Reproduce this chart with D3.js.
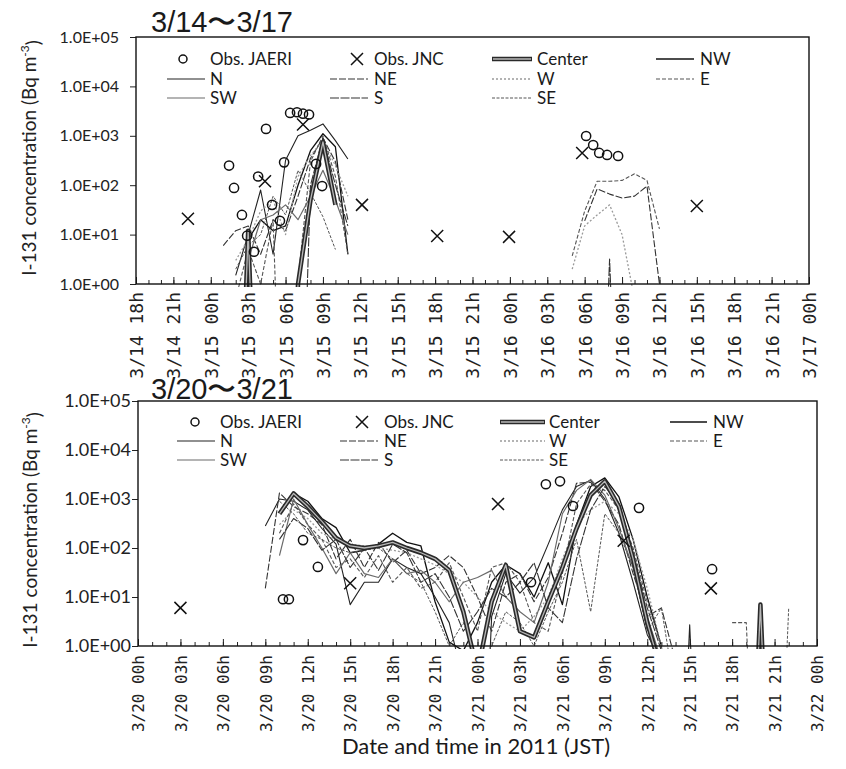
<!DOCTYPE html>
<html>
<head>
<meta charset="utf-8">
<script src="https://cdn.jsdelivr.net/npm/d3@7"></script>
<style>
  body { margin: 0; background: #fff; }
  svg { display: block; }
</style>
</head>
<body>
<svg id="chart" width="846" height="769"></svg>
<script>
const _ = null;          // no model output for that hour
const ND = 1e-6;         // below the plotted range (drawn through the axis, clipped)

// ---------- Panel 1: 3/14 - 3/17 ----------
const topRange = ["3/14 18", "3/17 00"];
const topHours = ["3/15 01","3/15 02","3/15 03","3/15 04","3/15 05","3/15 06","3/15 07","3/15 08",
                  "3/15 09","3/15 10","3/15 11","3/15 12",
                  "3/16 05","3/16 06","3/16 07","3/16 08","3/16 09","3/16 10","3/16 11","3/16 12","3/16 13"];
const topCenter = [_, ND, 12, ND, ND, ND, 1, 50, 750, 40, _, _,   _, _, _, _, _, _, _, _, _];
const topNW     = [_, ND, 8, 20, 12, 15, 100, 500, 1100, 600, 4, _,   _, _, _, _, _, _, _, _, _];
const topN      = [_, 1.5, 10, 80, 4, 320, 1000, 1300, 1740, 800, 340, _,   _, _, _, _, _, _, _, _, _];
const topNE     = [6, 12, 15, 4, 20, 12, 60, 350, 900, 300, 20, _,   _, 19, 84, 66, 55, 60, 96, 1, _];
const topW      = [_, 3, 8, 30, 50, 10, 150, 400, 800, 250, 60, _,   2, 15, 25, 40, 10, 0.5, _, _, _];
const topE      = [_, 0.5, 5, 1, 20, ND, 1.2, 300, 1000, 150, 4, _,   3.7, 30, 120, 120, 125, 170, 125, 13, _];
const topSW     = [_, _, 3, 20, 25, 40, 20, 60, 200, 50, 10, _,   _, _, _, _, _, _, _, _, _];
const topS      = [_, _, _, _, _, ND, ND, 100, 900, 100, 15, _,   _, _, ND, 3.2, ND, _, _, _, _];
const topSE     = [_, 2, 6, 10, 60, 25, 200, 70, 23, 5, _, _,   _, _, _, _, _, _, _, _, _];

const topJaeriTimes  = ["3/15 01:28","3/15 01:52","3/15 02:30","3/15 02:55","3/15 03:28","3/15 03:48",
                        "3/15 04:26","3/15 04:55","3/15 05:33","3/15 05:53","3/15 06:22","3/15 06:55",
                        "3/15 07:24","3/15 07:53","3/15 08:27","3/15 08:56",
                        "3/16 06:07","3/16 06:41","3/16 07:10","3/16 07:48","3/16 08:41"];
const topJaeriValues = [250, 88, 25, 9.5, 4.5, 150, 1380, 40, 19, 290, 2900, 3000, 2800, 2700, 270, 96,
                        990, 650, 450, 410, 390];
const topJncTimes  = ["3/14 22:10","3/15 04:21","3/15 07:24","3/15 12:08","3/15 18:10","3/15 23:56","3/16 05:48","3/16 15:00"];
const topJncValues = [21, 120, 1700, 40, 9.4, 9, 450, 38];

// ---------- Panel 2: 3/20 - 3/21 ----------
const botRange = ["3/20 00", "3/22 00"];
const botHours = ["3/20 09","3/20 10","3/20 11","3/20 12","3/20 13","3/20 14","3/20 15","3/20 16",
                  "3/20 17","3/20 18","3/20 19","3/20 20","3/20 21","3/20 22","3/20 23",
                  "3/21 00","3/21 01","3/21 02","3/21 03","3/21 04","3/21 05","3/21 06","3/21 07",
                  "3/21 08","3/21 09","3/21 10","3/21 11","3/21 12","3/21 13","3/21 14",
                  "3/21 15","3/21 16","3/21 17","3/21 18","3/21 19","3/21 20","3/21 21","3/21 22"];
const botCenter = [_, 500, 1300, 700, 350, 160, 110, 100, 110, 130, 100, 80, 60, 35, 5,
                   0.3, 8, 45, 2, 1.5, 8, 40, 250, 1200, 2300, 700, 60, 3, 0.3, ND,
                   _, _, _, _, ND, 7, ND, _];
const botNW     = [_, _, 1300, 900, 400, 260, 80, 90, 120, 200, 130, 110, 8, 1.2, 0.8,
                   3, 20, 45, 30, 10, 50, 7, 300, 1800, 2700, 1100, 150, 10, 1, ND,
                   _, _, _, _, _, _, _, _];
const botN      = [280, 1000, 900, 600, 250, 120, 7, 20, 20, 60, 40, 30, 10, 3, 0.2,
                   ND, 4, 30, 12, 25, 120, 600, 1800, 2400, 1000, 200, 20, 1.7, 0.5, ND,
                   2.7, ND, _, _, _, _, _, _];
const botNE     = [15, 1330, 700, 500, 300, 60, 150, 40, 130, 50, 90, 30, 40, 70, 40,
                   10, 2, 20, 30, 8, 25, 200, 2100, 2200, 900, 300, 30, 4, 6, 0.5,
                   _, _, _, _, _, _, _, _];
const botW      = [_, 300, 600, 400, 200, 150, 120, 110, 100, 90, 80, 60, 45, 30, 20,
                   10, 5, 3, 2, 4, 10, 60, 300, 600, 900, 500, 150, 15, 1, ND,
                   _, _, _, _, _, _, _, _];
const botE      = [_, 200, 800, 300, 150, 40, 60, 25, 70, 20, 40, 15, 20, 50, 10,
                   2, 40, 50, 20, 3, 2, 30, 800, 2000, 1500, 600, 100, 8, 1, ND,
                   _, _, _, 3, 3, ND, _, _];
const botSW     = [_, 70, 1000, 300, 100, 30, 80, 30, 25, 60, 30, 35, 20, 8, 20,
                   25, 35, 10, 5, 3, 20, 500, 1500, 2500, 1200, 250, 40, 4, 0.5, ND,
                   _, _, _, _, _, _, _, _];
const botS      = [_, 150, 400, 250, 90, 150, 40, 100, 35, 120, 80, 20, 30, 10, 2,
                   5, 15, 10, 20, 50, 6, 3, 60, 600, 1800, 800, 80, 6, 0.8, ND,
                   _, _, _, _, _, _, _, _];
const botSE     = [_, 900, 500, 200, 150, 100, 80, 90, 100, 60, 30, 20, 5, 1, 3,
                   0.5, 1, 5, 3, 1, 5, 20, 150, 5, 500, 200, 40, 2, 6, 0.1,
                   _, _, _, _, _, _, ND, 6];

const botJaeriTimes  = ["3/20 10:15","3/20 10:40","3/20 11:40","3/20 12:43","3/21 03:47","3/21 04:50",
                        "3/21 05:50","3/21 06:45","3/21 11:25","3/21 16:35"];
const botJaeriValues = [9, 9, 145, 41, 20, 2000, 2300, 720, 660, 37];
const botJncTimes  = ["3/20 03:00","3/20 15:00","3/21 01:27","3/21 10:20","3/21 16:30"];
const botJncValues = [6, 19, 790, 140, 15];

const yTickValues = [1, 10, 100, 1000, 10000, 100000];
const seriesNames = ["NW", "N", "NE", "W", "E", "SW", "S", "SE", "Center"];

// line styles of the model runs
const styles = {
  Center: { stroke: "#2a2a2a", width: 4.5, dash: null, core: "#b8b8b8" },
  NW: { stroke: "#111", width: 1.3, dash: null },
  N:  { stroke: "#222", width: 1.1, dash: null },
  NE: { stroke: "#333", width: 1.1, dash: "7,2" },
  W:  { stroke: "#9a9a9a", width: 1.3, dash: "2,2" },
  E:  { stroke: "#555", width: 1.1, dash: "4,2" },
  SW: { stroke: "#6a6a6a", width: 1.2, dash: null },
  S:  { stroke: "#333", width: 1.1, dash: "9,1.5" },
  SE: { stroke: "#555", width: 1.0, dash: "3,1.5" }
};

const parseHour = d3.timeParse("%m/%d %H");
const parseMinute = d3.timeParse("%m/%d %H:%M");
const fmtTick = d3.timeFormat("%-m/%d %Hh");
const fmtPow = v => "1.0E+" + String(Math.round(Math.log10(v))).padStart(2, "0");

const svg = d3.select("#chart");
const defs = svg.append("defs");

function drawPanel(p) {
  const x = d3.scaleTime().domain(p.range.map(parseHour)).range([p.left, p.right]);
  const y = d3.scaleLog().domain([1, 1e5]).range([p.bottom, p.top]);
  const g = svg.append("g");

  defs.append("clipPath").attr("id", "clip-" + p.id)
    .append("rect")
    .attr("x", p.left).attr("y", p.top)
    .attr("width", p.right - p.left).attr("height", p.bottom - p.top + 3);

  // hourly minor ticks, pointing into the plot
  g.append("g").attr("transform", `translate(0,${p.bottom})`)
    .call(d3.axisBottom(x).ticks(d3.timeHour.every(1)).tickSize(-4).tickFormat(""))
    .call(a => a.select(".domain").remove())
    .call(a => a.selectAll("line").attr("stroke", "#222"));

  // three-hourly ticks with rotated date labels
  const ax = g.append("g").attr("transform", `translate(0,${p.bottom})`)
    .call(d3.axisBottom(x).ticks(d3.timeHour.every(3)).tickSize(-7).tickFormat(fmtTick));
  ax.select(".domain").remove();
  ax.selectAll("line").attr("stroke", "#222");
  ax.selectAll("text")
    .attr("transform", "rotate(-90)")
    .attr("text-anchor", "end")
    .attr("x", -p.labelGap).attr("y", 0).attr("dy", "0.36em")
    .attr("fill", "#222")
    .style("font-family", "'DejaVu Sans Mono', monospace")
    .style("font-size", p.xLabelSize + "px");

  // logarithmic y axis
  const ay = g.append("g").attr("transform", `translate(${p.left},0)`)
    .call(d3.axisLeft(y).tickValues(yTickValues).tickSize(6).tickPadding(p.yPad).tickFormat(fmtPow));
  ay.select(".domain").remove();
  ay.selectAll("line").attr("stroke", "#222");
  ay.selectAll("text")
    .attr("fill", "#222")
    .style("font-family", "Lato, sans-serif")
    .style("font-size", p.yLabelSize + "px");

  // y axis title
  const yt = g.append("text")
    .attr("transform", `translate(${p.yTitleX},${p.yTitleY}) rotate(-90)`)
    .attr("text-anchor", "middle")
    .attr("fill", "#222")
    .style("font-family", "Lato, sans-serif")
    .style("font-size", "19px");
  yt.append("tspan").text("I-131 concentration (Bq m");
  yt.append("tspan").attr("dy", "-0.55em").style("font-size", "12px").text("-3");
  yt.append("tspan").attr("dy", "0.55em").text(")");

  // model lines
  const plot = g.append("g").attr("clip-path", `url(#clip-${p.id})`);
  const times = p.hours.map(parseHour);
  seriesNames.forEach(name => {
    const vals = p.series[name];
    const data = times.map((t, i) => ({ t, v: vals[i] }));
    const line = d3.line().defined(d => d.v != null).x(d => x(d.t)).y(d => y(d.v));
    const st = styles[name];
    plot.append("path").datum(data)
      .attr("d", line)
      .attr("fill", "none")
      .attr("stroke", st.stroke)
      .attr("stroke-width", st.width)
      .attr("stroke-dasharray", st.dash)
      .attr("stroke-linejoin", "round");
    if (st.core) {
      plot.append("path").datum(data)
        .attr("d", line)
        .attr("fill", "none")
        .attr("stroke", st.core)
        .attr("stroke-width", 1.3)
        .attr("stroke-linejoin", "round");
    }
  });

  // observations
  const jaeri = p.jaeriTimes.map((t, i) => ({ t: parseMinute(t), v: p.jaeriValues[i] }));
  g.append("g").selectAll("circle").data(jaeri).join("circle")
    .attr("cx", d => x(d.t)).attr("cy", d => y(d.v)).attr("r", 4.6)
    .attr("fill", "none").attr("stroke", "#111").attr("stroke-width", 1.5);
  const jnc = p.jncTimes.map((t, i) => ({ t: parseMinute(t), v: p.jncValues[i] }));
  g.append("g").selectAll("path").data(jnc).join("path")
    .attr("transform", d => `translate(${x(d.t)},${y(d.v)})`)
    .attr("d", "M-6,-6L6,6M-6,6L6,-6")
    .attr("stroke", "#111").attr("stroke-width", 1.5);

  // frame
  g.append("rect")
    .attr("x", p.left).attr("y", p.top)
    .attr("width", p.right - p.left).attr("height", p.bottom - p.top)
    .attr("fill", "none").attr("stroke", "#111").attr("stroke-width", 1.4);

  // panel title
  g.append("text")
    .attr("x", p.titleX).attr("y", p.titleY)
    .attr("fill", "#1a1a1a")
    .style("font-family", "'Liberation Sans', Arial, sans-serif")
    .style("font-size", "29px")
    .text(p.title);

  // legend
  const lg = g.append("g")
    .style("font-family", "Lato, sans-serif")
    .style("font-size", "17px")
    .attr("fill", "#1a1a1a");
  const entries = [
    ["JAERI", "Obs. JAERI", 0, 0], ["JNC", "Obs. JNC", 1, 0], ["Center", "Center", 2, 0], ["NW", "NW", 3, 0],
    ["N", "N", 0, 1], ["NE", "NE", 1, 1], ["W", "W", 2, 1], ["E", "E", 3, 1],
    ["SW", "SW", 0, 2], ["S", "S", 1, 2], ["SE", "SE", 2, 2]
  ];
  entries.forEach(([key, label, col, row]) => {
    const cy = p.legendRows[row];
    const c = p.legendCols[col];
    if (key === "JAERI") {
      lg.append("circle").attr("cx", c.marker).attr("cy", cy).attr("r", 4)
        .attr("fill", "none").attr("stroke", "#111").attr("stroke-width", 1.5);
    } else if (key === "JNC") {
      lg.append("path").attr("transform", `translate(${c.marker},${cy})`)
        .attr("d", "M-6,-6L6,6M-6,6L6,-6").attr("stroke", "#111").attr("stroke-width", 1.5);
    } else {
      const st = styles[key];
      lg.append("line").attr("x1", c.x1).attr("x2", c.x2).attr("y1", cy).attr("y2", cy)
        .attr("stroke", st.stroke).attr("stroke-width", st.width).attr("stroke-dasharray", st.dash);
      if (st.core) {
        lg.append("line").attr("x1", c.x1 + 1).attr("x2", c.x2 - 1).attr("y1", cy).attr("y2", cy)
          .attr("stroke", st.core).attr("stroke-width", 1.3);
      }
    }
    lg.append("text").attr("x", c.text).attr("y", cy).attr("dy", "0.36em").text(label);
  });
}

drawPanel({
  id: "top", title: "3/14\u301C3/17", titleX: 151, titleY: 32,
  left: 136, right: 809, top: 37, bottom: 284,
  range: topRange, hours: topHours,
  series: { Center: topCenter, NW: topNW, N: topN, NE: topNE, W: topW, E: topE, SW: topSW, S: topS, SE: topSE },
  jaeriTimes: topJaeriTimes, jaeriValues: topJaeriValues,
  jncTimes: topJncTimes, jncValues: topJncValues,
  labelGap: 8, xLabelSize: 18, yPad: 11, yLabelSize: 16,
  yTitleX: 36, yTitleY: 158,
  legendRows: [59, 79, 98],
  legendCols: [
    { marker: 183, x1: 167, x2: 205, text: 210 },
    { marker: 357, x1: 330, x2: 368, text: 374 },
    { x1: 492, x2: 532, text: 537 },
    { x1: 656, x2: 694, text: 700 }
  ]
});

drawPanel({
  id: "bot", title: "3/20\u301C3/21", titleX: 151, titleY: 399,
  left: 138, right: 817, top: 401, bottom: 646,
  range: botRange, hours: botHours,
  series: { Center: botCenter, NW: botNW, N: botN, NE: botNE, W: botW, E: botE, SW: botSW, S: botS, SE: botSE },
  jaeriTimes: botJaeriTimes, jaeriValues: botJaeriValues,
  jncTimes: botJncTimes, jncValues: botJncValues,
  labelGap: 9, xLabelSize: 16, yPad: 1, yLabelSize: 18,
  yTitleX: 37, yTitleY: 530,
  legendRows: [422, 441, 460],
  legendCols: [
    { marker: 195, x1: 177, x2: 215, text: 220 },
    { marker: 362, x1: 340, x2: 378, text: 384 },
    { x1: 500, x2: 545, text: 549 },
    { x1: 670, x2: 707, text: 713 }
  ]
});

// shared x axis title
svg.append("text")
  .attr("x", 476).attr("y", 754)
  .attr("text-anchor", "middle")
  .attr("fill", "#1a1a1a")
  .style("font-family", "Lato, sans-serif")
  .style("font-size", "22px")
  .text("Date and time in 2011 (JST)");
</script>
</body>
</html>
